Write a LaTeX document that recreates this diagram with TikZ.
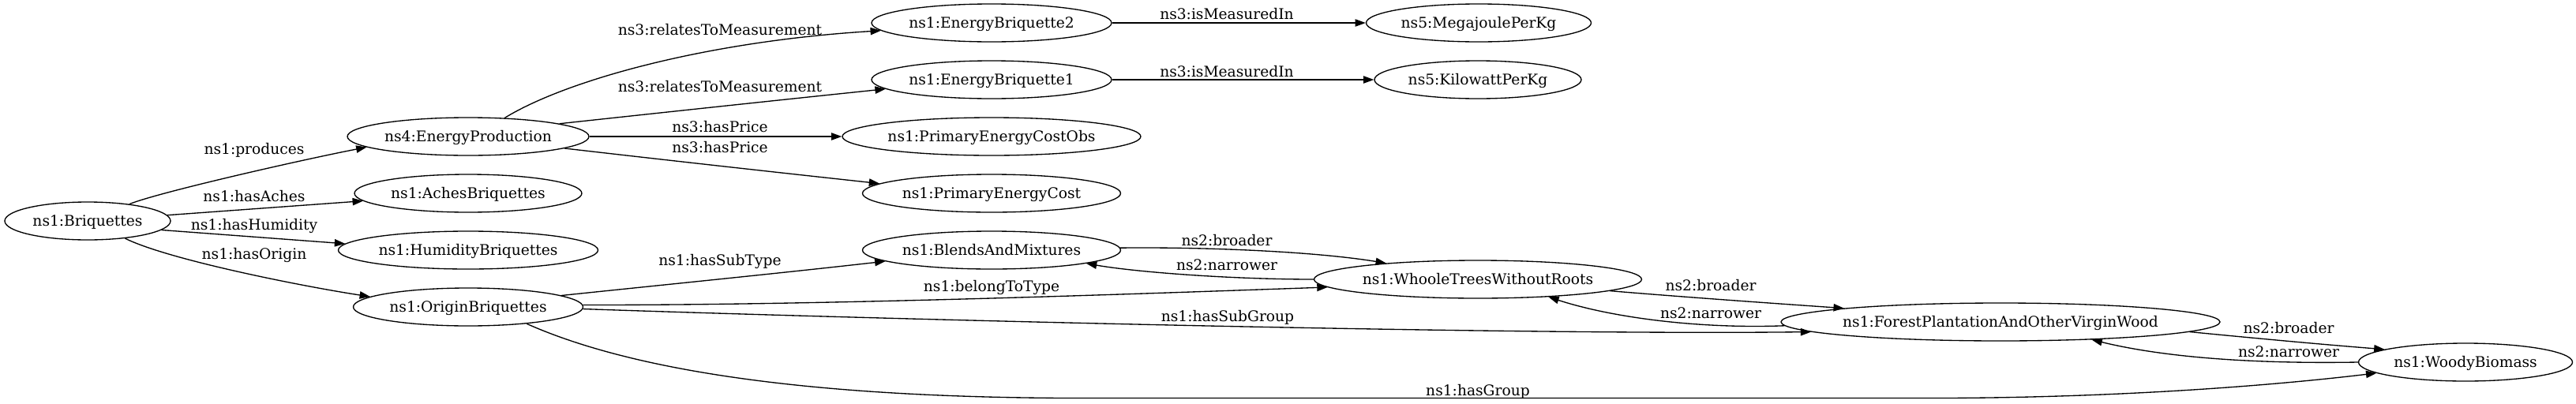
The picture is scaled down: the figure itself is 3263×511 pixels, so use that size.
\documentclass[tikz,border=0pt]{standalone}
\usepackage{fontspec}
\setmainfont{DejaVu Serif}
\usetikzlibrary{shapes.geometric,arrows.meta}
\begin{document}
\begin{tikzpicture}[x=0.75pt,y=-0.75pt,
  font=\fontsize{14pt}{16pt}\selectfont,
  nd/.style={draw, ellipse, line width=1pt, minimum height=36pt, inner sep=0pt, text height=10pt, text depth=1pt},
  edge/.style={line width=1pt, -{Triangle[length=10pt,width=7pt]}},
  lbl/.style={anchor=base, inner sep=0pt}]
\fill[white] (0,0) rectangle (3263,511);
\useasboundingbox (0,0) rectangle (3263,511);
% nodes
\node[nd, minimum width=157.5pt]  (bri) at (111,280)  {\makebox[0pt]{ns1:Briquettes}};
\node[nd, minimum width=229.5pt]  (ep)  at (593,173)  {\makebox[0pt]{ns4:EnergyProduction}};
\node[nd, minimum width=216pt]    (ach) at (593,245)  {\makebox[0pt]{ns1:AchesBriquettes}};
\node[nd, minimum width=246.75pt] (hum) at (593,317)  {\makebox[0pt]{ns1:HumidityBriquettes}};
\node[nd, minimum width=218.25pt] (ori) at (593,389)  {\makebox[0pt]{ns1:OriginBriquettes}};
\node[nd, minimum width=228pt]    (eb2) at (1256,29)  {\makebox[0pt]{ns1:EnergyBriquette2}};
\node[nd, minimum width=228pt]    (eb1) at (1256,101) {\makebox[0pt]{ns1:EnergyBriquette1}};
\node[nd, minimum width=283.5pt]  (pco) at (1256,173) {\makebox[0pt]{ns1:PrimaryEnergyCostObs}};
\node[nd, minimum width=245.25pt] (pc)  at (1256,245) {\makebox[0pt]{ns1:PrimaryEnergyCost}};
\node[nd, minimum width=245.25pt] (bl)  at (1256,317) {\makebox[0pt]{ns1:BlendsAndMixtures}};
\node[nd, minimum width=213.75pt] (mj)  at (1873,29)  {\makebox[0pt]{ns5:MegajoulePerKg}};
\node[nd, minimum width=196.5pt]  (kw)  at (1872,101) {\makebox[0pt]{ns5:KilowattPerKg}};
\node[nd, minimum width=311.25pt] (wh)  at (1872,354) {\makebox[0pt]{ns1:WhooleTreesWithoutRoots}};
\node[nd, minimum width=417pt]    (fo)  at (2534,408) {\makebox[0pt]{ns1:ForestPlantationAndOtherVirginWood}};
\node[nd, minimum width=203.25pt] (wo)  at (3123,459) {\makebox[0pt]{ns1:WoodyBiomass}};
% edges
\draw[edge] (bri.22.2) .. controls (200,244) and (380,203) .. (ep.186.9);
\draw[edge] (bri) -- (ach);
\draw[edge] (bri.-7.5) -- (hum.177.5);
\draw[edge] (bri.-25.6) .. controls (215,330) and (390,364) .. (ori.174.1);
\draw[edge] (ep.27) .. controls (720,100) and (900,52) .. (eb2.184.6);
\draw[edge] (ep.8.1) .. controls (845,142) and (985,127) .. (eb1.185.1);
\draw[edge] (ep) -- (pco);
\draw[edge] (ep.-7.6) .. controls (845,203) and (980,218) .. (pc.175.1);
\draw[edge] (eb2) -- (mj);
\draw[edge] (eb1) -- (kw);
\draw[edge] (ori.7) .. controls (850,360) and (990,346) .. (bl.186.7);
\draw[edge] (bl.1) .. controls (1520,313) and (1660,318) .. (wh.170.8);
\draw[edge] (wh.west) .. controls (1560,354) and (1440,345) .. (bl.-8.8);
\draw[edge] (ori.1) .. controls (1050,387) and (1450,372) .. (wh.183.7);
\draw[edge] (ori.-1.3) .. controls (1100,404) and (1900,425) .. (fo.183);
\draw[edge] (wh.-5) .. controls (2140,377) and (2240,384) .. (fo.175.5);
\draw[edge] (fo.181.6) .. controls (2150,417) and (2040,402) .. (wh.-14.6);
\draw[edge] (fo.-3.36) .. controls (2850,428) and (2935,436) .. (wo.171.6);
\draw[edge] (wo.west) .. controls (2870,461) and (2750,455) .. (fo.-11.2);
\draw[edge] (ori.-16.2) .. controls (790,465) and (1000,503) .. (1350,504.5) -- (2450,504.5) .. controls (2650,504.5) and (2850,492) .. (wo.187.1);
% edge labels
\node[lbl] (l1)  at (322,195)  {ns1:produces};
\node[lbl] (l2)  at (322,255)  {ns1:hasAches};
\node[lbl] (l3)  at (322,291)  {ns1:hasHumidity};
\node[lbl] (l4)  at (322,328)  {ns1:hasOrigin};
\node[lbl] (l5)  at (912,44)   {ns3:relatesToMeasurement};
\node[lbl] (l6)  at (912,116)  {ns3:relatesToMeasurement};
\node[lbl] (l7)  at (912,167.5) {ns3:hasPrice};
\node[lbl] (l8)  at (912,193.5) {ns3:hasPrice};
\node[lbl] (l9)  at (912,336)  {ns1:hasSubType};
\node[lbl] (l10) at (1554,24)  {ns3:isMeasuredIn};
\node[lbl] (l11) at (1554,97)  {ns3:isMeasuredIn};
\node[lbl] (l12) at (1554,311.5) {ns2:broader};
\node[lbl] (l13) at (1554,342) {ns2:narrower};
\node[lbl] (l14) at (1256,369.5) {ns1:belongToType};
\node[lbl] (l15) at (1555,407.5) {ns1:hasSubGroup};
\node[lbl] (l16) at (1872,501.5) {ns1:hasGroup};
\node[lbl] (l17) at (2167,368) {ns2:broader};
\node[lbl] (l18) at (2167,403.5) {ns2:narrower};
\node[lbl] (l19) at (2899,422.5) {ns2:broader};
\node[lbl] (l20) at (2899,452) {ns2:narrower};
\end{tikzpicture}
\end{document}
